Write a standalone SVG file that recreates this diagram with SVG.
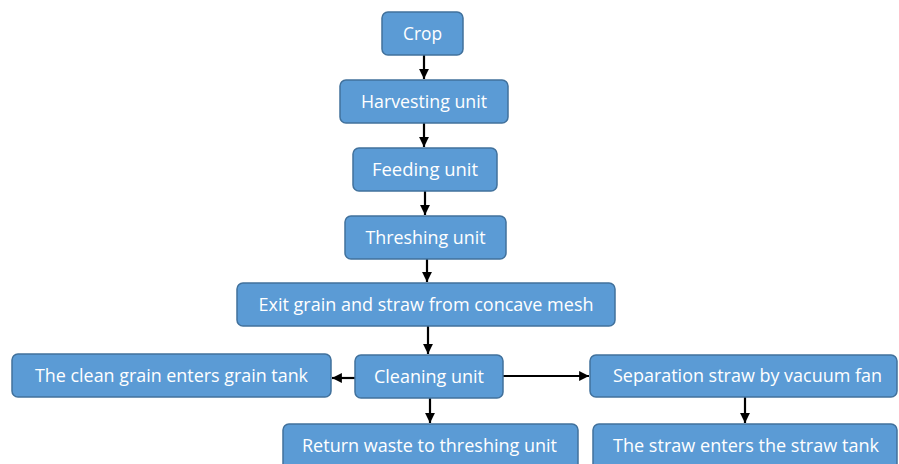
<svg xmlns="http://www.w3.org/2000/svg" width="899" height="464" viewBox="0 0 899 464">
<style>
.box{fill:#5B9BD5;stroke:#41719C;stroke-width:1.5}
.lbl{font-family:"Open Sans","Liberation Sans",sans-serif;font-size:18px;fill:#fff;text-anchor:middle}
.con{stroke:#000;stroke-width:2.2;fill:none;marker-end:url(#ah)}
</style>
<defs>
<marker id="ah" viewBox="0 0 10 10" refX="10" refY="5" markerWidth="4.5" markerHeight="4.5" orient="auto" markerUnits="strokeWidth">
<path d="M0,0 L10,5 L0,10 z" fill="#000"/>
</marker>
</defs>
<rect width="899" height="464" fill="#fff"/>
<g id="connectors">
<line class="con" x1="424" y1="55" x2="424" y2="79"/>
<line class="con" x1="424" y1="123" x2="424" y2="147"/>
<line class="con" x1="425" y1="191" x2="425" y2="215"/>
<line class="con" x1="427" y1="259" x2="427" y2="282"/>
<line class="con" x1="428" y1="326" x2="428" y2="354"/>
<line class="con" x1="355" y1="378" x2="332" y2="378"/>
<line class="con" x1="503" y1="376" x2="589" y2="376"/>
<line class="con" x1="430" y1="398" x2="430" y2="423"/>
<line class="con" x1="745" y1="397" x2="745" y2="423"/>
</g>
<g id="crop"><rect class="box" x="382" y="12" width="81" height="43" rx="6"/><text class="lbl" x="422.5" y="40" textLength="39" lengthAdjust="spacingAndGlyphs">Crop</text></g>
<g id="harvesting"><rect class="box" x="340" y="80" width="168" height="43" rx="6"/><text class="lbl" x="424" y="108" textLength="126" lengthAdjust="spacingAndGlyphs">Harvesting unit</text></g>
<g id="feeding"><rect class="box" x="353" y="148" width="144" height="43" rx="6"/><text class="lbl" x="425" y="176" textLength="106" lengthAdjust="spacingAndGlyphs">Feeding unit</text></g>
<g id="threshing"><rect class="box" x="345" y="216" width="161" height="43" rx="6"/><text class="lbl" x="425.5" y="244" textLength="120" lengthAdjust="spacingAndGlyphs">Threshing unit</text></g>
<g id="exit"><rect class="box" x="237" y="283" width="378" height="43" rx="6"/><text class="lbl" x="426" y="311" textLength="335" lengthAdjust="spacingAndGlyphs">Exit grain and straw from concave mesh</text></g>
<g id="cleaning"><rect class="box" x="355" y="355" width="148" height="43" rx="6"/><text class="lbl" x="429" y="383" textLength="110" lengthAdjust="spacingAndGlyphs">Cleaning unit</text></g>
<g id="cleangrain"><rect class="box" x="12" y="354" width="319" height="43" rx="6"/><text class="lbl" x="171.5" y="382" textLength="273" lengthAdjust="spacingAndGlyphs">The clean grain enters grain tank</text></g>
<g id="separation"><rect class="box" x="590" y="355" width="307" height="42" rx="6"/><text class="lbl" x="747.5" y="382" textLength="269" lengthAdjust="spacingAndGlyphs">Separation straw by vacuum fan</text></g>
<g id="returnwaste"><rect class="box" x="283" y="424" width="295" height="46" rx="6"/><text class="lbl" x="429.5" y="452" textLength="255" lengthAdjust="spacingAndGlyphs">Return waste to threshing unit</text></g>
<g id="strawtank"><rect class="box" x="593" y="424" width="304" height="46" rx="6"/><text class="lbl" x="746" y="452" textLength="266" lengthAdjust="spacingAndGlyphs">The straw enters the straw tank</text></g>
</svg>
